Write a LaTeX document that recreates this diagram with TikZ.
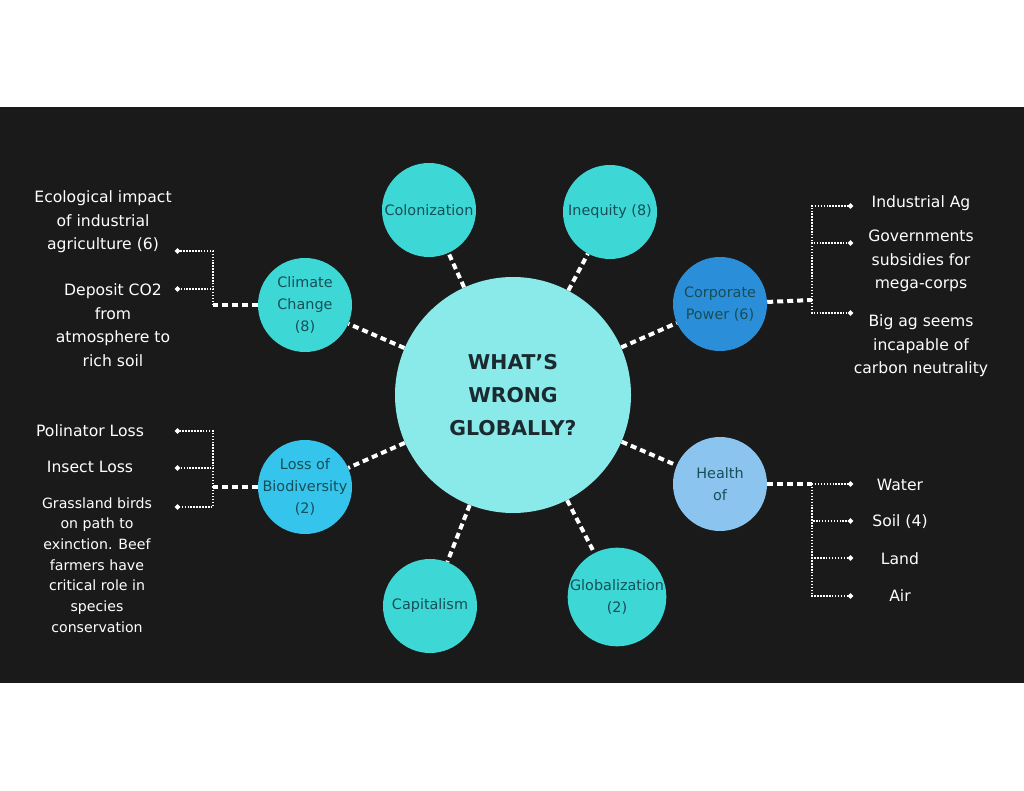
\documentclass[tikz,border=0pt]{standalone}
\usepackage{fontspec}
\setmainfont{DejaVu Sans}
\usepackage{xcolor}
\usepackage{tikz}
\usetikzlibrary{positioning, arrows.meta, calc}
\definecolor{pizarra}{HTML}{1A1A1A}
\definecolor{nucleo}{HTML}{8AE9E9}
\definecolor{turquesa}{HTML}{3DD8D6}
\definecolor{azulcorp}{HTML}{2B8ED8}
\definecolor{celeste}{HTML}{8BC4EE}
\definecolor{cian}{HTML}{35C4EC}
\definecolor{tinta}{HTML}{174E58}
\definecolor{tintaosc}{HTML}{1B2A2E}
\newcommand{\ancho}[1]{\makebox[0pt]{#1}}
\tikzset{
  tema/.style={circle, minimum size=70.5pt, inner sep=0pt, align=center, text=tinta, font=\fontsize{10.8}{16.5}\selectfont},
  hoja/.style={text=white, align=center, font=\fontsize{11.7}{17.6}\selectfont},
  enlace/.style={white, line width=3pt, dash pattern=on 4.5pt off 3pt},
  rama/.style={white, line width=1.1pt, dash pattern=on 1.1pt off 1.1pt, -{Circle[length=3.8pt]}}
}

\begin{document}
\begin{tikzpicture}[x=0.75pt, y=-0.75pt]
    \useasboundingbox (0,0) rectangle (1024,791);
    \fill[white] (0,0) rectangle (1024,791);
    \fill[pizarra] (0,107) rectangle (1024,683);

    \node[circle, fill=nucleo, minimum size=177pt, inner sep=0pt, align=center, text=tintaosc,
      font=\bfseries\fontsize{15.3}{25}\selectfont] (centro) at (513,395) {WHAT'S\\WRONG\\GLOBALLY?};
    \node[tema, fill=turquesa] (colon) at (429,210) {\ancho{Colonization}};
    \node[tema, fill=turquesa] (ineq) at (610,212) {Inequity (8)};
    \node[tema, fill=azulcorp] (corp) at (720,304) {Corporate\\Power (6)};
    \node[tema, fill=celeste] (salud) at (720,484) {Health\\of};
    \node[tema, fill=turquesa, minimum size=74pt] (global) at (617,597) {\ancho{Globalization}\\(2)};
    \node[tema, fill=turquesa] (capital) at (430,606) {Capitalism};
    \node[tema, fill=cian] (biodiv) at (305,487) {Loss of\\\ancho{Biodiversity}\\(2)};
    \node[tema, fill=turquesa] (clima) at (305,305) {Climate\\Change\\(8)};

    \foreach \t in {colon,ineq,corp,salud,global,capital,biodiv,clima}
      {\draw[enlace] (centro) -- (\t);}

    \node[hoja] (eco) at (103,222) {Ecological impact\\of industrial\\agriculture (6)};
    \node[hoja] (dep) at (113,325) {Deposit CO2\\from\\atmosphere to\\rich soil};
    \node[hoja] (poli) at (90,431) {Polinator Loss};
    \node[hoja] (insect) at (90,467) {Insect Loss};
    \node[hoja, font=\fontsize{10.6}{15.5}\selectfont] (grass) at (97,565)
      {Grassland birds\\on path to\\exinction. Beef\\farmers have\\critical role in\\species\\conservation};
    \node[hoja] (indag) at (921,203) {Industrial Ag};
    \node[hoja] (gov) at (921,261) {Governments\\subsidies for\\mega-corps};
    \node[hoja] (bigag) at (921,346) {Big ag seems\\incapable of\\carbon neutrality};
    \node[hoja] (water) at (900,485) {Water};
    \node[hoja] (soil) at (900,522) {Soil (4)};
    \node[hoja] (land) at (900,559) {Land};
    \node[hoja] (air) at (900,596) {Air};

    \coordinate (cc-j) at (213,305);
    \coordinate (bd-j) at (213,487);
    \coordinate (cp-j) at (812,300);
    \coordinate (hs-j) at (812,484);
    \coordinate (eco-p) at (175,251);
    \coordinate (dep-p) at (175,289);
    \coordinate (poli-p) at (175,431);
    \coordinate (insect-p) at (175,468);
    \coordinate (grass-p) at (175,507);
    \coordinate (indag-p) at (853,206);
    \coordinate (gov-p) at (853,243);
    \coordinate (bigag-p) at (853,313);
    \coordinate (water-p) at (853,484);
    \coordinate (soil-p) at (853,521);
    \coordinate (land-p) at (853,558);
    \coordinate (air-p) at (853,596);

    \draw[enlace] (clima) -- (cc-j);
    \draw[enlace] (biodiv) -- (bd-j);
    \draw[enlace] (corp) -- (cp-j);
    \draw[enlace] (salud) -- (hs-j);
    \foreach \p in {eco,dep} {\draw[rama] (cc-j) |- (\p-p);}
    \foreach \p in {poli,insect,grass} {\draw[rama] (bd-j) |- (\p-p);}
    \foreach \p in {indag,gov,bigag} {\draw[rama] (cp-j) |- (\p-p);}
    \foreach \p in {water,soil,land,air} {\draw[rama] (hs-j) |- (\p-p);}
  \end{tikzpicture}
\end{document}
